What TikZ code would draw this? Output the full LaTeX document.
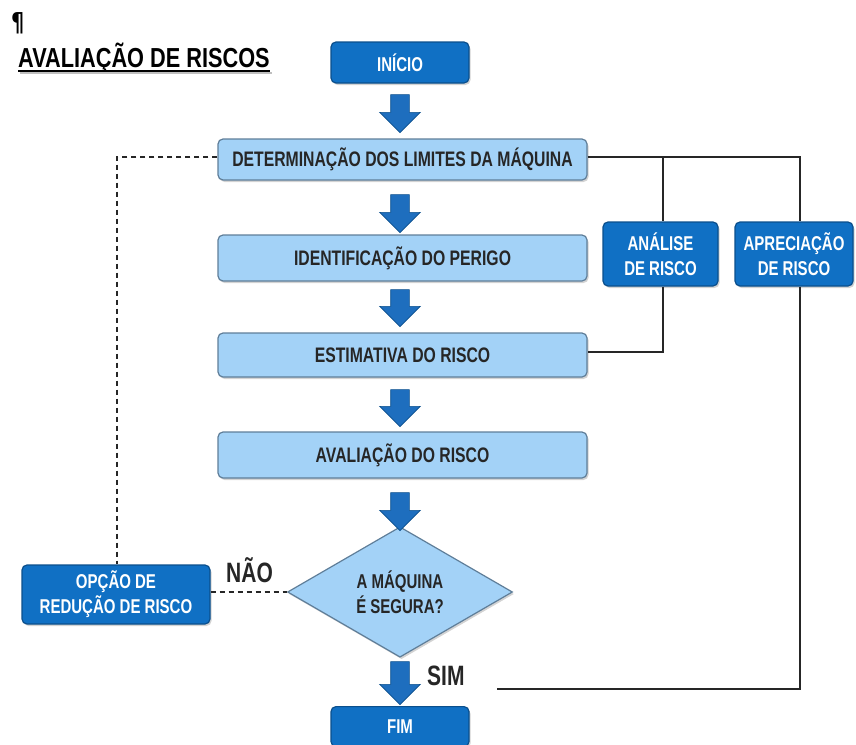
\documentclass[tikz,border=0pt]{standalone}
\usepackage{fontspec}
\setmainfont{Liberation Sans}
\newfontfamily\narrow[FakeStretch=0.75]{Liberation Sans}
\newfontfamily\narrowb[FakeStretch=0.79]{Liberation Sans}
\newfontfamily\dejavu[FakeStretch=0.8]{DejaVu Sans}
\usetikzlibrary{shapes.geometric,shapes.arrows,shadows}
\definecolor{darkblue}{HTML}{1070C4}
\definecolor{darkedge}{HTML}{0B4F8C}
\definecolor{lightblue}{HTML}{A3D2F7}
\definecolor{lightedge}{HTML}{5F7E99}
\definecolor{arrowblue}{HTML}{1E6EBE}
\tikzset{
  lbox/.style={draw=lightedge, line width=1.2pt, fill=lightblue, rounded corners=5pt,
    minimum width=369pt, inner sep=0pt, font=\narrow\bfseries\fontsize{21}{24}\selectfont,
    text=black!85, drop shadow={shadow xshift=1.5pt, shadow yshift=-2pt, opacity=0.35}},
  dbox/.style={draw=darkedge, line width=1.2pt, fill=darkblue, rounded corners=5pt,
    inner sep=0pt, align=center, font=\narrow\bfseries\fontsize{20}{25}\selectfont,
    text=white, drop shadow={shadow xshift=1.5pt, shadow yshift=-2pt, opacity=0.35}},
  barrow/.style={shape=single arrow, shape border rotate=270, fill=arrowblue,
    draw=darkedge, line width=0.6pt, inner sep=9pt, single arrow head extend=11pt,
    single arrow tip angle=90, minimum height=#1},
  conn/.style={draw=black!85, line width=1.6pt},
  dconn/.style={draw=black!85, line width=1.6pt, dash pattern=on 5pt off 4pt},
  lbl/.style={font=\narrow\bfseries\fontsize{28}{30}\selectfont, text=black!85, inner sep=0pt}
}
\begin{document}
\begin{tikzpicture}[x=1pt,y=-1pt]
\useasboundingbox (0,0) rectangle (856,744);
% title
\node[font=\dejavu\bfseries\fontsize{26}{28}\selectfont, inner sep=0pt, anchor=base west] (para) at (11,31) {¶};
\node[font=\narrowb\bfseries\fontsize{27.5}{30}\selectfont, inner sep=0pt, anchor=base west] (title) at (18,67.5) {AVALIAÇÃO DE RISCOS};
\draw[black!25, line width=2.5pt] ([xshift=2pt,yshift=-5.5pt]title.base west) -- ([xshift=2pt,yshift=-5.5pt]title.base east);
\draw[black, line width=2.5pt] ([yshift=-3.5pt]title.base west) -- ([yshift=-3.5pt]title.base east);
% main column
\node[dbox, minimum width=138pt, minimum height=41pt] (ini) at (400,62.5) {INÍCIO};
\node[lbox, minimum height=41pt] (det) at (402.5,159.5) {DETERMINAÇÃO DOS LIMITES DA MÁQUINA};
\node[lbox, minimum height=46pt] (ide) at (402.5,258) {IDENTIFICAÇÃO DO PERIGO};
\node[lbox, minimum height=44pt] (est) at (402.5,355) {ESTIMATIVA DO RISCO};
\node[lbox, minimum height=46pt] (ava) at (402.5,455) {AVALIAÇÃO DO RISCO};
\node[diamond, draw=lightedge, line width=1.2pt, fill=lightblue, minimum width=225pt,
  minimum height=115pt, inner sep=0pt, align=center,
  font=\narrow\bfseries\fontsize{20}{25}\selectfont, text=black!85,
  drop shadow={shadow xshift=1.5pt, shadow yshift=-2pt, opacity=0.35}] (dec) at (400,592) {A MÁQUINA\\É SEGURA?};
\node[dbox, minimum width=138pt, minimum height=40pt, anchor=north] (fim) at (400,706) {FIM};
% block arrows
\node[barrow=38pt] (a1) at (400,109) {};
\node[barrow=38pt] (a2) at (400,209) {};
\node[barrow=37pt] (a3) at (400,303.5) {};
\node[barrow=37pt] (a4) at (400,403.5) {};
\node[barrow=38pt] (a5) at (400,507) {};
\node[barrow=43pt] (a6) at (400,678.5) {};
\node[lbl, anchor=base west] (sim) at (427,685.5) {SIM};
\node[lbl, anchor=base west] (nao) at (226,582) {NÃO};
% side boxes
\node[dbox, minimum width=115pt, minimum height=64pt] (ana) at (660.5,254) {ANÁLISE\\DE RISCO};
\node[dbox, minimum width=118pt, minimum height=64pt] (apr) at (794,254) {APRECIAÇÃO\\DE RISCO};
\node[dbox, minimum width=188pt, minimum height=59pt] (opc) at (116,594.5) {OPÇÃO DE\\REDUÇÃO DE RISCO};
% connectors
\coordinate (c1) at (800,157);
\coordinate (c2) at (663,157);
\coordinate (c3) at (663,352);
\coordinate (c4) at (800,689);
\coordinate (c5) at (497,689);
\coordinate (c6) at (117,157);
\draw[conn] (det.east |- c1) -- (c1) -- (c1 |- apr.north);
\draw[conn] (c2) -- (c2 |- ana.north);
\draw[conn] (c2 |- ana.south) -- (c3) -- (est.east |- c3);
\draw[conn] (c1 |- apr.south) -- (c4) -- (c5);
\draw[dconn] (det.west |- c6) -- (c6) -- (c6 |- opc.north);
\draw[dconn] (opc.east |- dec.west) -- (dec.west);
\end{tikzpicture}
\end{document}
